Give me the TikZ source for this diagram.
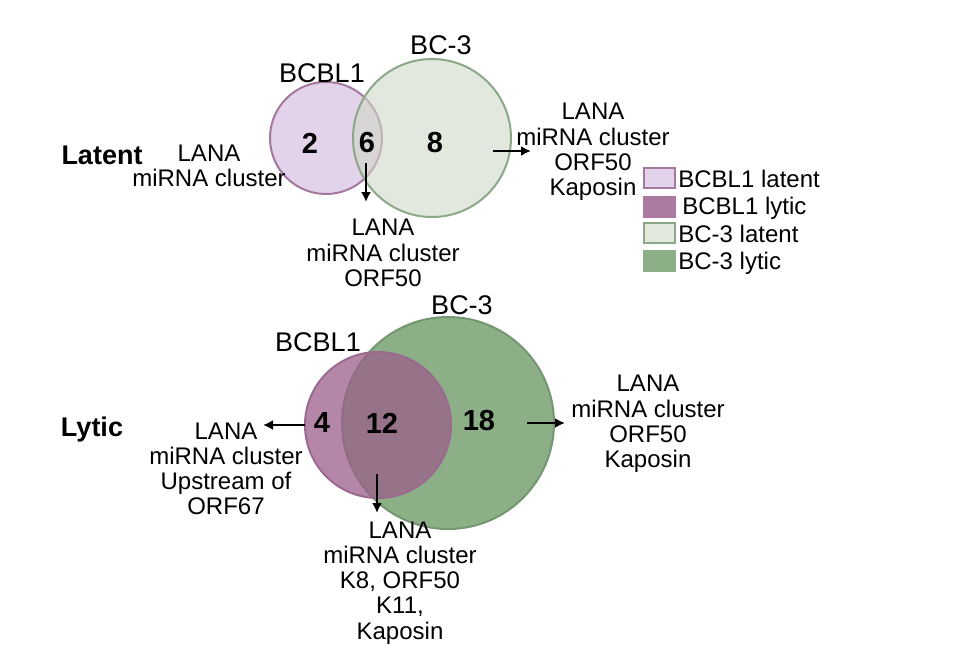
\documentclass[tikz,border=0pt]{standalone}
\usepackage{fontspec}
\setmainfont{Liberation Sans}
\usetikzlibrary{arrows.meta}
\definecolor{latpink}{RGB}{227,211,234}
\definecolor{latpinkedge}{RGB}{165,120,158}
\definecolor{latgreen}{RGB}{207,217,200}
\definecolor{latgreenbox}{RGB}{226,232,222}
\definecolor{latgreenedge}{RGB}{140,168,137}
\definecolor{lytpink}{RGB}{155,95,140}
\definecolor{lytpinkbox}{RGB}{172,122,160}
\definecolor{lytpinkedge}{RGB}{155,105,142}
\definecolor{lytgreen}{RGB}{140,175,136}
\definecolor{lytgreenedge}{RGB}{118,150,115}
\tikzset{
  set/.style={circle, inner sep=0pt, line width=1pt},
  num/.style={font=\fontsize{14.5}{15}\selectfont\bfseries},
  hdr/.style={font=\fontsize{13.5}{14}\selectfont},
  side/.style={font=\fontsize{13.5}{14}\selectfont\bfseries},
  genes/.style={align=center, font=\fontsize{12}{12.6}\selectfont},
  keybox/.style={minimum width=15.5pt, minimum height=10pt, inner sep=0pt, line width=1pt},
  keytext/.style={anchor=west, font=\fontsize{12}{12.4}\selectfont, inner sep=0pt},
  pointer/.style={-{Latex[length=5pt, width=5pt]}, line width=1.4pt}
}
\begin{document}
\begin{tikzpicture}[x=0.5pt, y=-0.5pt]
  \useasboundingbox (0,0) rectangle (971,650);
  % latent
  \node[set, draw=latpinkedge, fill=latpink, minimum size=56pt] (bcbllat) at (326,138) {};
  \node[set, draw=latgreenedge, fill=latgreen, fill opacity=0.6, minimum size=79pt] (bclat) at (432,138) {};
  \node[hdr] (bcbllatname) at (322,73) {BCBL1};
  \node[hdr] (bclatname) at (441,45) {BC-3};
  \node[side] (latent) at (102,155) {Latent};
  \node[num] (two) at (310,143) {2};
  \node[num] (six) at (367,143) {6};
  \node[num] (eight) at (435,143) {8};
  \node[genes] (latleft) at (209,166) {LANA\\miRNA cluster};
  \node[genes] (latbelow) at (383,253) {LANA\\miRNA cluster\\ORF50};
  \node[genes] (latright) at (593,152) {LANA\\miRNA cluster\\ORF50\\Kaposin};
  \coordinate (sixout) at (366,163);
  \coordinate (sixend) at (366,202);
  \coordinate (eightout) at (493,151);
  \coordinate (eightend) at (531,151);
  \draw[pointer] (sixout) -- (sixend);
  \draw[pointer] (eightout) -- (eightend);
  % lytic
  \node[set, draw=lytgreenedge, fill=lytgreen, minimum size=106pt] (bclyt) at (448,423) {};
  \node[set, draw=lytpinkedge, fill=lytpink, fill opacity=0.75, minimum size=73pt] (bcbllyt) at (378,425) {};
  \node[hdr] (bcbllytname) at (318,342) {BCBL1};
  \node[hdr] (bclytname) at (462,305) {BC-3};
  \node[side] (lytic) at (92,430) {Lytic};
  \node[num] (four) at (322,423) {4};
  \node[num] (twelve) at (382,423) {12};
  \node[num] (eighteen) at (479,421) {18};
  \node[genes] (lytleft) at (226,469) {LANA\\miRNA cluster\\Upstream of\\ORF67};
  \node[genes] (lytbelow) at (400,583) {LANA\\miRNA cluster\\K8, ORF50\\K11,\\Kaposin};
  \node[genes] (lytright) at (648,424) {LANA\\miRNA cluster\\ORF50\\Kaposin};
  \coordinate (fourout) at (305,425);
  \coordinate (fourend) at (263,425);
  \coordinate (twelveout) at (377,474);
  \coordinate (twelveend) at (377,513);
  \coordinate (eighteenout) at (527,423);
  \coordinate (eighteenend) at (565,423);
  \draw[pointer] (fourout) -- (fourend);
  \draw[pointer] (twelveout) -- (twelveend);
  \draw[pointer] (eighteenout) -- (eighteenend);
  % key
  \node[keybox, draw=latpinkedge, fill=latpink] (k1) at (659,178) {};
  \node[keybox, draw=lytpinkbox, fill=lytpinkbox] (k2) at (659,207) {};
  \node[keybox, draw=latgreenedge, fill=latgreenbox] (k3) at (659,233) {};
  \node[keybox, draw=lytgreen, fill=lytgreen] (k4) at (659,261) {};
  \node[keytext] (k1t) at (678,179) {BCBL1 latent};
  \node[keytext] (k2t) at (682,208) {BCBL1 lytic};
  \node[keytext] (k3t) at (678,234) {BC-3 latent};
  \node[keytext] (k4t) at (678,263) {BC-3 lytic};
\end{tikzpicture}
\end{document}
